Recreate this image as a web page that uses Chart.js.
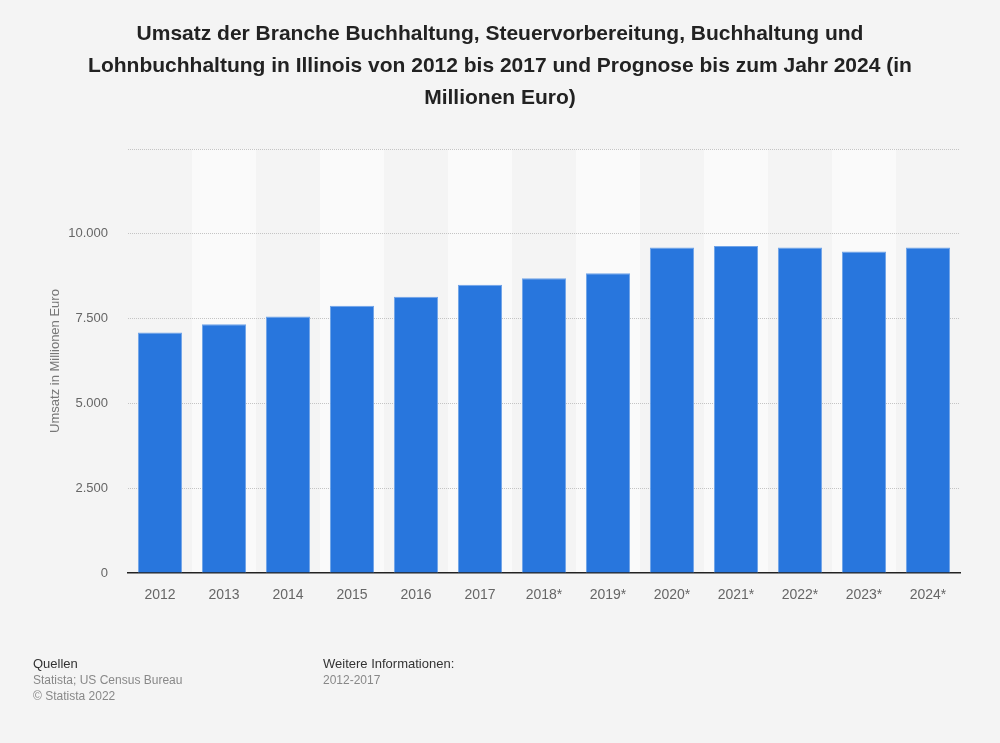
<!DOCTYPE html>
<html>
<head>
<meta charset="utf-8">
<script src="https://cdn.jsdelivr.net/npm/chart.js@4/dist/chart.umd.min.js"></script>
<style>
  html, body { margin: 0; padding: 0; background: #f4f4f4; }
  body { width: 1000px; height: 743px; position: relative; overflow: hidden; font-family: "Liberation Sans", Arial, sans-serif; }
  #title { position: absolute; left: 0; top: 17px; width: 1000px; text-align: center; font-weight: bold; font-size: 21px; line-height: 32px; color: #222; }
  #wrap { position: absolute; left: 0; top: 0; width: 1000px; height: 743px; }
  .foot { position: absolute; top: 656px; font-size: 12px; line-height: 16px; color: #888; }
  .foot b { font-weight: normal; color: #333; font-size: 13px; }
</style>
</head>
<body>
<div id="wrap"><canvas id="umsatzchart"></canvas></div>
<div id="title">Umsatz der Branche Buchhaltung, Steuervorbereitung, Buchhaltung und<br>Lohnbuchhaltung in Illinois von 2012 bis 2017 und Prognose bis zum Jahr 2024 (in<br>Millionen Euro)</div>
<div class="foot" style="left:33px"><b>Quellen</b><br>Statista; US Census Bureau<br>© Statista 2022</div>
<div class="foot" style="left:323px"><b>Weitere Informationen:</b><br>2012-2017</div>
<script>
var years = ['2012', '2013', '2014', '2015', '2016', '2017', '2018*', '2019*', '2020*', '2021*', '2022*', '2023*', '2024*'];
var umsatz = [7088, 7336, 7560, 7876, 8142, 8496, 8692, 8840, 9596, 9637, 9596, 9478, 9596];
var yticks = [0, 2500, 5000, 7500, 10000, 12500];

// helle Streifen hinter jeder zweiten Kategorie, vor Gitter und Achsen
var stripes = {
    id: 'stripes',
    beforeDraw: function(chart) {
        var ctx = chart.ctx, x = chart.scales.x, area = chart.chartArea;
        var w = (area.right - area.left) / years.length;
        ctx.save();
        ctx.fillStyle = '#fafafa';
        for (var i = 1; i < years.length; i += 2) {
            var cx = x.getPixelForValue(i);
            ctx.fillRect(cx - w / 2, area.top, w, area.bottom - area.top);
        }
        ctx.restore();
    }
};

var ctx = document.getElementById('umsatzchart').getContext('2d');
var umsatzchart = new Chart(ctx, {
    type: 'bar',
    data: {
        labels: years,
        datasets: [{
            label: 'Umsatz',
            data: umsatz,
            backgroundColor: '#2876dd',
            borderColor: '#6fa3e8',
            borderWidth: 1,
            borderSkipped: 'bottom',
            barPercentage: 0.69,
            categoryPercentage: 1
        }]
    },
    options: {
        responsive: true,
        maintainAspectRatio: false,
        animation: false,
        layout: { padding: { left: 40, right: 40, top: 149, bottom: 130 } },
        plugins: { legend: { display: false }, tooltip: { enabled: false } },
        scales: {
            x: {
                afterFit: function(s) { s.height = 40; },
                grid: { display: false },
                border: { display: true, color: '#222', width: 1.5 },
                ticks: { color: '#666', padding: 6, font: { family: 'Liberation Sans', size: 14 } }
            },
            y: {
                min: 0,
                max: 12500,
                afterFit: function(s) { s.width = 88; },
                afterBuildTicks: function(s) { s.ticks = yticks.map(function(v) { return { value: v }; }); },
                border: { display: false, dash: [1, 1] },
                grid: {
                    drawTicks: false,
                    color: function(c) { return c.tick && c.tick.value === 0 ? 'rgba(0,0,0,0)' : '#c4c4c4'; },
                    lineWidth: 1
                },
                ticks: {
                    color: '#666',
                    padding: 20,
                    font: { family: 'Liberation Sans', size: 13 },
                    callback: function(v) { return v === 12500 ? '' : v.toLocaleString('de-DE'); }
                },
                title: {
                    display: true,
                    text: 'Umsatz in Millionen Euro',
                    color: '#777',
                    padding: { top: 8, bottom: 4 },
                    font: { family: 'Liberation Sans', size: 13 }
                }
            }
        }
    },
    plugins: [stripes]
});
</script>
</body>
</html>
